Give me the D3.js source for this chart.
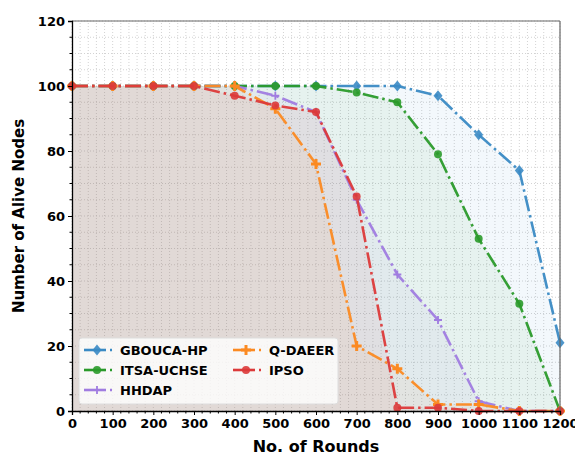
<!DOCTYPE html>
<html>
<head>
<meta charset="utf-8">
<script src="https://cdn.jsdelivr.net/npm/d3@7"></script>
<style>
  body { margin: 0; background: #fff; }
  text { font-family: "DejaVu Sans", sans-serif; font-weight: bold; }
  .tick text { font-size: 13px; fill: #000; }
  .legend { font-size: 13px; }
</style>
</head>
<body>
<div id="chart"></div>
<script>
const width = 575;
const height = 455;

// data
const rounds = [0, 100, 200, 300, 400, 500, 600, 700, 800, 900, 1000, 1100, 1200];
const gboucaHP  = [100, 100, 100, 100, 100, 100, 100, 100, 100, 97, 85, 74, 21];
const itsaUCHSE = [100, 100, 100, 100, 100, 100, 100, 98, 95, 79, 53, 33, 0];
const hhdap     = [100, 100, 100, 100, 100, 97, 92, 65, 42, 28, 3, 0, 0];
const qDAEER    = [100, 100, 100, 100, 100, 93, 76, 20, 13, 2, 2, 0, 0];
const ipso      = [100, 100, 100, 100, 97, 94, 92, 66, 1, 1, 0, 0, 0];

const seriesNames = ["GBOUCA-HP", "ITSA-UCHSE", "HHDAP", "Q-DAEER", "IPSO"];
const seriesColors = ["#3a8ac4", "#2a9a2a", "#a07ce0", "#fb8a22", "#dc3a3a"];
const seriesMarkers = ["diamond", "circle", "plus", "boldplus", "circle"];
const seriesValues = [gboucaHP, itsaUCHSE, hhdap, qDAEER, ipso];

const xTicks = [0, 100, 200, 300, 400, 500, 600, 700, 800, 900, 1000, 1100, 1200];
const yTicks = [0, 20, 40, 60, 80, 100, 120];

const margin = { top: 21, right: 15, bottom: 44, left: 72 };

const svg = d3.select("#chart").append("svg")
   .attr("width", width)
   .attr("height", height);

const x = d3.scaleLinear()
   .domain([0, 1200])
   .range([margin.left, width - margin.right]);

const y = d3.scaleLinear()
   .domain([0, 120])
   .range([height - margin.bottom, margin.top]);

// grid (major + minor)
const grid = svg.append("g");
grid.selectAll("line.vg")
   .data(d3.range(0, 1201, 20))
   .enter().append("line")
   .attr("x1", d => x(d)).attr("x2", d => x(d))
   .attr("y1", y(0)).attr("y2", y(120))
   .attr("stroke", "#c8c8c8").attr("stroke-width", 0.8)
   .attr("stroke-dasharray", "1,2");
grid.selectAll("line.hg")
   .data(d3.range(0, 121, 5))
   .enter().append("line")
   .attr("x1", x(0)).attr("x2", x(1200))
   .attr("y1", d => y(d)).attr("y2", d => y(d))
   .attr("stroke", "#c8c8c8").attr("stroke-width", 0.8)
   .attr("stroke-dasharray", "1,2");

// fills
const area = d3.area()
   .x((d, i) => x(rounds[i]))
   .y0(y(0))
   .y1(d => y(d));

seriesValues.forEach((vals, k) => {
   svg.append("path")
      .datum(vals)
      .attr("d", area)
      .attr("fill", seriesColors[k])
      .attr("fill-opacity", 0.06);
});

// lines
const line = d3.line()
   .x((d, i) => x(rounds[i]))
   .y(d => y(d));

function drawMarker(g, type, cx, cy, color) {
   if (type === "diamond") {
      g.append("path")
         .attr("d", `M${cx},${cy-5.5}L${cx+4.5},${cy}L${cx},${cy+5.5}L${cx-4.5},${cy}Z`)
         .attr("fill", color).attr("opacity", 0.9);
   } else if (type === "circle") {
      g.append("circle")
         .attr("cx", cx).attr("cy", cy).attr("r", 4)
         .attr("fill", color).attr("opacity", 0.9);
   } else if (type === "plus") {
      g.append("path")
         .attr("d", `M${cx-4},${cy}H${cx+4}M${cx},${cy-4}V${cy+4}`)
         .attr("stroke", color).attr("stroke-width", 1.8);
   } else {
      g.append("path")
         .attr("d", `M${cx-5},${cy}H${cx+5}M${cx},${cy-5}V${cy+5}`)
         .attr("stroke", color).attr("stroke-width", 3);
   }
}

seriesValues.forEach((vals, k) => {
   svg.append("path")
      .datum(vals)
      .attr("d", line)
      .attr("fill", "none")
      .attr("stroke", seriesColors[k])
      .attr("stroke-width", 2.6)
      .attr("stroke-opacity", 0.95)
      .attr("stroke-dasharray", "16,4,2.5,4");
   const mg = svg.append("g");
   vals.forEach((v, i) => drawMarker(mg, seriesMarkers[k], x(rounds[i]), y(v), seriesColors[k]));
});

// spines
svg.append("line")
   .attr("x1", x(0)).attr("x2", x(1200)).attr("y1", y(120)).attr("y2", y(120))
   .attr("stroke", "#666").attr("stroke-width", 1.2);
svg.append("line")
   .attr("x1", x(1200)).attr("x2", x(1200)).attr("y1", y(0)).attr("y2", y(120))
   .attr("stroke", "#666").attr("stroke-width", 1.2);

// axes
const xAxis = svg.append("g")
   .attr("transform", `translate(0,${y(0)})`)
   .call(d3.axisBottom(x).tickValues(xTicks).tickFormat(d3.format("d")).tickSize(4).tickPadding(4));
xAxis.append("g").selectAll("line")
   .data(d3.range(0, 1201, 20).filter(d => d % 100 !== 0))
   .enter().append("line")
   .attr("x1", d => x(d)).attr("x2", d => x(d))
   .attr("y1", 0).attr("y2", 2.5)
   .attr("stroke", "#000");

const yAxis = svg.append("g")
   .attr("transform", `translate(${x(0)},0)`)
   .call(d3.axisLeft(y).tickValues(yTicks).tickFormat(d3.format("d")).tickSize(4).tickPadding(3));
yAxis.append("g").selectAll("line")
   .data(d3.range(0, 121, 5).filter(d => d % 20 !== 0))
   .enter().append("line")
   .attr("x1", 0).attr("x2", -2.5)
   .attr("y1", d => y(d)).attr("y2", d => y(d))
   .attr("stroke", "#000");

svg.selectAll(".domain").attr("stroke", "#000").attr("stroke-width", 1.3);
svg.selectAll(".tick text").style("font-family", "DejaVu Sans").style("font-weight", "bold");

// axis labels
svg.append("text")
   .attr("x", (x(0) + x(1200)) / 2)
   .attr("y", 452)
   .style("text-anchor", "middle")
   .style("font-size", "16px")
   .text("No. of Rounds");
svg.append("text")
   .attr("transform", `translate(24,${(y(0) + y(120)) / 2}) rotate(-90)`)
   .style("text-anchor", "middle")
   .style("font-size", "15px")
   .text("Number of Alive Nodes");

// legend
const legend = svg.append("g");
legend.append("rect")
   .attr("x", 79).attr("y", 338)
   .attr("width", 259).attr("height", 66)
   .attr("rx", 3)
   .attr("fill", "#fff").attr("fill-opacity", 0.8)
   .attr("stroke", "#ddd");

const legendPos = [[84, 350], [84, 370], [84, 390], [233, 350], [233, 370]];
seriesNames.forEach((name, k) => {
   const [lx, ly] = legendPos[k];
   legend.append("line")
      .attr("x1", lx).attr("x2", lx + 22).attr("y1", ly).attr("y2", ly)
      .attr("stroke", seriesColors[k]).attr("stroke-width", 2.6);
   legend.append("line")
      .attr("x1", lx + 26).attr("x2", lx + 28).attr("y1", ly).attr("y2", ly)
      .attr("stroke", seriesColors[k]).attr("stroke-width", 2.6);
   drawMarker(legend, seriesMarkers[k], lx + 13, ly, seriesColors[k]);
   legend.append("text")
      .attr("class", "legend")
      .attr("x", lx + 36).attr("y", ly + 5)
      .text(name);
});
</script>
</body>
</html>
